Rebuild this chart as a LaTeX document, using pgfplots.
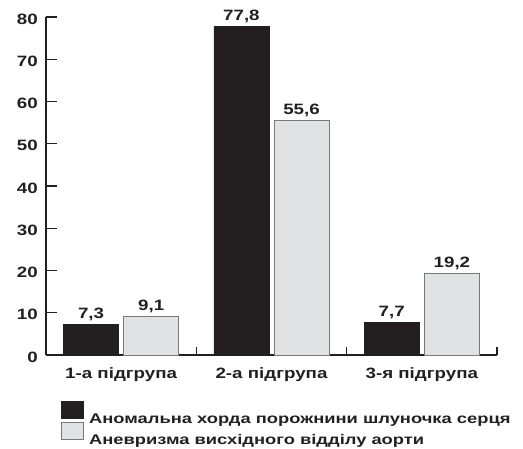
\documentclass[border=0pt]{standalone}
\usepackage{fontspec}
\setmainfont{Liberation Sans}
\newfontfamily\lsb{Liberation Sans Bold}[FakeStretch=1.25]
\newfontfamily\lsbl{Liberation Sans Bold}[FakeStretch=1.31]
\usepackage{pgfplots}
\pgfplotsset{compat=1.18}
\definecolor{barblack}{HTML}{231F20}
\definecolor{bargray}{HTML}{E1E2E4}
\definecolor{bordergray}{HTML}{77787B}
\pgfplotsset{barleg/.style={legend image code/.code={\draw[##1] (0pt,1pt) rectangle (22pt,18pt);}}}
\begin{document}
\begin{tikzpicture}
\useasboundingbox (0,0) rectangle (523pt,448pt);
\begin{axis}[
  at={(46pt,93pt)}, anchor=south west,
  scale only axis, width=451pt, height=338pt,
  xmin=-0.5, xmax=2.5, ymin=0, ymax=80,
  axis x line=bottom, axis y line=left,
  axis line style={-, line width=1.5pt, draw=barblack},
  tick align=inside,
  major tick length=11pt, minor tick length=8pt,
  tick style={line width=1.3pt, draw=barblack},
  xtick={0,1,2},
  xticklabels={1-а підгрупа, 2-а підгрупа, 3-я підгрупа},
  major x tick style={draw=none},
  minor xtick={0.5,1.5,2.5},
  ytick={0,10,...,80},
  /pgf/number format/assume math mode=true,
  ticklabel style={font=\lsb\fontsize{15}{18}\selectfont, text=barblack},
  yticklabel style={anchor=east, inner sep=0pt, xshift=-8pt, yshift=-2pt},
  xticklabel style={anchor=base, inner sep=0pt, yshift=-23pt},
  nodes near coords,
  point meta=explicit symbolic,
  nodes near coords style={font=\lsb\fontsize{15}{18}\selectfont, text=barblack, anchor=base, inner sep=0pt, yshift=6pt},
  legend style={at={(axis description cs:0,0)}, anchor=north west,
    xshift=15.2pt, yshift=-46pt, draw=none, fill=none, inner sep=0pt, outer sep=0pt,
    row sep=-6pt, column sep=5pt,
    font=\lsbl\fontsize{14}{16}\selectfont,
    nodes={inner sep=0pt, text height=13pt, text depth=4pt, text=barblack}},
  legend cell align=left,
]
\addplot[ybar, bar width=55pt, bar shift=0pt, fill=barblack, draw=barblack, barleg]
  coordinates {(-0.2,7.3)[7,3] (0.8,77.8)[77,8] (1.8,7.7)[7,7]};
\addplot[ybar, bar width=55pt, bar shift=0pt, fill=bargray, draw=bordergray, line width=0.9pt, barleg]
  coordinates {(0.2,9.1)[9,1] (1.2,55.6)[55,6] (2.2,19.2)[19,2]};
\legend{Аномальна хорда порожнини шлуночка серця, Аневризма висхідного відділу аорти}
\end{axis}
\end{tikzpicture}
\end{document}
